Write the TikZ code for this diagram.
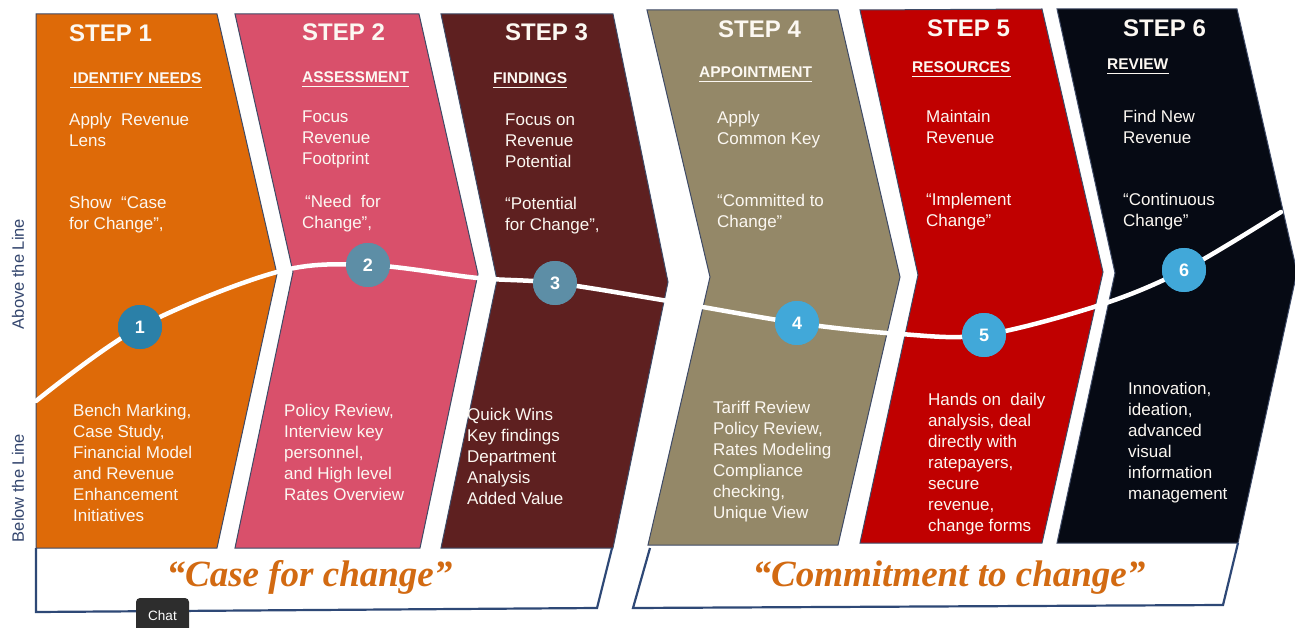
\documentclass[tikz,border=0pt]{standalone}
\usepackage{fontspec}
\setmainfont{Liberation Sans}
\newfontfamily\quotefont{Liberation Serif}
\usetikzlibrary{calc}

\definecolor{cOne}{RGB}{222,106,8}
\definecolor{cTwo}{RGB}{217,80,107}
\definecolor{cThree}{RGB}{94,32,32}
\definecolor{cFour}{RGB}{148,136,104}
\definecolor{cFive}{RGB}{192,0,0}
\definecolor{cSix}{RGB}{6,10,20}
\definecolor{edgecol}{RGB}{62,74,102}
\definecolor{txtcol}{RGB}{252,248,242}
\definecolor{navy}{RGB}{46,72,118}
\definecolor{quotecol}{RGB}{210,106,18}
\definecolor{sidecol}{RGB}{52,70,110}
\definecolor{bDark}{RGB}{43,128,168}
\definecolor{bGrey}{RGB}{93,142,166}
\definecolor{bLight}{RGB}{65,168,217}
\definecolor{chatbg}{RGB}{45,45,45}

\begin{document}
\begin{tikzpicture}[x=1pt,y=-1pt,
  chev/.style={draw=edgecol, line width=1pt},
  bracket/.style={draw=navy, line width=2.2pt, line join=miter},
  wave/.style={draw=white, line width=4.5pt, line cap=round},
  badge/.style={circle, minimum size=44pt, inner sep=0pt, text=white,
    font=\bfseries\fontsize{18}{20}\selectfont},
  steptxt/.style={text=txtcol, anchor=base west, inner sep=0pt,
    font=\bfseries\fontsize{24}{28}\selectfont},
  subtxt/.style={text=txtcol, anchor=base west, inner sep=0pt,
    font=\bfseries\fontsize{15.5}{18}\selectfont},
  ulline/.style={draw=txtcol, line width=1.4pt},
  bodytxt/.style={text=txtcol, anchor=north west, inner sep=0pt, align=left,
    font=\fontsize{17}{21}\selectfont},
  sidetxt/.style={text=sidecol, rotate=90, inner sep=0pt,
    font=\fontsize{16.5}{19}\selectfont},
  quotetxt/.style={text=quotecol, inner sep=0pt, anchor=base,
    font=\quotefont\bfseries\itshape\fontsize{37}{40}\selectfont}
]
\useasboundingbox (0,0) rectangle (1295,628);
\fill[white] (0,0) rectangle (1295,628);

% ---- chevrons ----
\filldraw[chev, fill=cOne]   (36,14) -- (217,14) -- (277,274) -- (217,548) -- (36,548) -- cycle;
\filldraw[chev, fill=cTwo]   (235,14) -- (419,14) -- (478,274) -- (420,548) -- (235,548) -- (293,272) -- cycle;
\filldraw[chev, fill=cThree] (441,14) -- (613,14) -- (668,282) -- (613,548) -- (441,548) -- (497,280) -- cycle;
\filldraw[chev, fill=cFour]  (647,10) -- (838,10) -- (900,277) -- (838,545) -- (648,545) -- (710,277) -- cycle;
\filldraw[chev, fill=cFive]  (860,10) -- (1042,9) -- (1103,272) -- (1042,543) -- (860,543) -- (918,275) -- cycle;
\filldraw[chev, fill=cSix]   (1057,9) -- (1237,9) -- (1297,272) -- (1238,543) -- (1057,543) -- (1115,273) -- cycle;

% ---- brackets under the two phases ----
\draw[bracket] (36,548) -- (36,612) -- (597,608) -- (612,548);
\draw[bracket] (650,548) -- (633,608) -- (1223,605) -- (1238,543);

% ---- milestone badges and the line through them ----
\node[badge, fill=bDark]  (b1) at (140,327) {1};
\node[badge, fill=bGrey]  (b2) at (368,265) {2};
\node[badge, fill=bGrey]  (b3) at (555,283) {3};
\node[badge, fill=bLight] (b4) at (797,323) {4};
\node[badge, fill=bLight] (b5) at (984,335) {5};
\node[badge, fill=bLight] (b6) at (1184,270) {6};
\coordinate (w0) at (36,401);
\coordinate (w1) at (277,272);
\coordinate (w2) at (478,278);
\coordinate (w3) at (668,301);
\coordinate (w4) at (900,334);
\coordinate (w5) at (1100,305);
\coordinate (w6) at (1281,212);
\draw[wave] plot[smooth, tension=0.55] coordinates {(w0) (b1.center) (w1) (b2.center) (w2) (b3.center) (w3) (b4.center) (w4) (b5.center) (w5) (b6.center) (w6)};
\foreach \b/\c/\n in {b1/bDark/1, b2/bGrey/2, b3/bGrey/3, b4/bLight/4, b5/bLight/5, b6/bLight/6}
  \node[badge, fill=\c] at (\b) {\n};

% ---- side labels ----
\node[sidetxt] (above) at (18,274) {Above the Line};
\node[sidetxt] (below) at (18,488) {Below the Line};

% ---- step 1 ----
\node[steptxt] (t1) at (69,42) {STEP 1};
\node[subtxt] (s1) at (73,83.5) {IDENTIFY NEEDS};
\draw[ulline] ($(s1.base west)+(-3,4)$) -- ($(s1.base east)+(0,4)$);
\node[bodytxt] (a1) at (69,113) {Apply\ \ Revenue\\Lens};
\node[bodytxt] (q1) at (69,196) {Show\ \ “Case\\for Change”,};
\node[bodytxt] (d1) at (73,404) {Bench Marking,\\Case Study,\\Financial Model\\and Revenue\\Enhancement\\Initiatives};

% ---- step 2 ----
\node[steptxt] (t2) at (302,41) {STEP 2};
\node[subtxt] (s2) at (302,82.5) {ASSESSMENT};
\draw[ulline] ($(s2.base west)+(0,4)$) -- ($(s2.base east)+(0,4)$);
\node[bodytxt] (a2) at (302,111) {Focus\\Revenue\\Footprint};
\node[bodytxt] (q2) at (302,195) {\hspace*{3pt}“Need\ \ for\\Change”,};
\node[bodytxt] (d2) at (284,404) {Policy Review,\\Interview key\\personnel,\\and High level\\Rates Overview};

% ---- step 3 ----
\node[steptxt] (t3) at (505,41) {STEP 3};
\node[subtxt] (s3) at (493,83.5) {FINDINGS};
\draw[ulline] ($(s3.base west)+(0,4)$) -- ($(s3.base east)+(0,4)$);
\node[bodytxt] (a3) at (505,114) {Focus on\\Revenue\\Potential};
\node[bodytxt] (q3) at (505,197) {“Potential\\for Change”,};
\node[bodytxt] (d3) at (467,408) {Quick Wins\\Key findings\\Department\\Analysis\\Added Value};

% ---- step 4 ----
\node[steptxt] (t4) at (718,38) {STEP 4};
\node[subtxt] (s4) at (699,77.5) {APPOINTMENT};
\draw[ulline] ($(s4.base west)+(0,4)$) -- ($(s4.base east)+(0,4)$);
\node[bodytxt] (a4) at (717,111) {Apply\\Common Key};
\node[bodytxt] (q4) at (717,194) {“Committed to\\Change”};
\node[bodytxt] (d4) at (713,401) {Tariff Review\\Policy Review,\\Rates Modeling\\Compliance\\checking,\\Unique View};

% ---- step 5 ----
\node[steptxt] (t5) at (927,37) {STEP 5};
\node[subtxt] (s5) at (912,72.5) {RESOURCES};
\draw[ulline] ($(s5.base west)+(0,4)$) -- ($(s5.base east)+(0,4)$);
\node[bodytxt] (a5) at (926,110) {Maintain\\Revenue};
\node[bodytxt] (q5) at (926,193) {“Implement\\Change”};
\node[bodytxt] (d5) at (928,393) {Hands on\ \ daily\\analysis, deal\\directly with\\ratepayers,\\secure\\revenue,\\change forms};

% ---- step 6 ----
\node[steptxt] (t6) at (1123,37) {STEP 6};
\node[subtxt] (s6) at (1107,69.5) {REVIEW};
\draw[ulline] ($(s6.base west)+(0,4)$) -- ($(s6.base east)+(0,4)$);
\node[bodytxt] (a6) at (1123,110) {Find New\\Revenue};
\node[bodytxt] (q6) at (1123,193) {“Continuous\\Change”};
\node[bodytxt] (d6) at (1128,382) {Innovation,\\ideation,\\advanced\\visual\\information\\management};

% ---- phase captions ----
\node[quotetxt] (p1) at (309.5,586) {“Case for change”};
\node[quotetxt] (p2) at (949,586) {“Commitment to change”};

% ---- chat tab ----
\node[fill=chatbg, rounded corners=4pt, minimum width=53pt, minimum height=36pt,
  inner sep=0pt] (chat) at (162.5,616) {};
\node[text=white, font=\fontsize{13.5}{16}\selectfont, inner sep=0pt] (chatlbl) at (chat.center) {Chat};
\end{tikzpicture}
\end{document}
